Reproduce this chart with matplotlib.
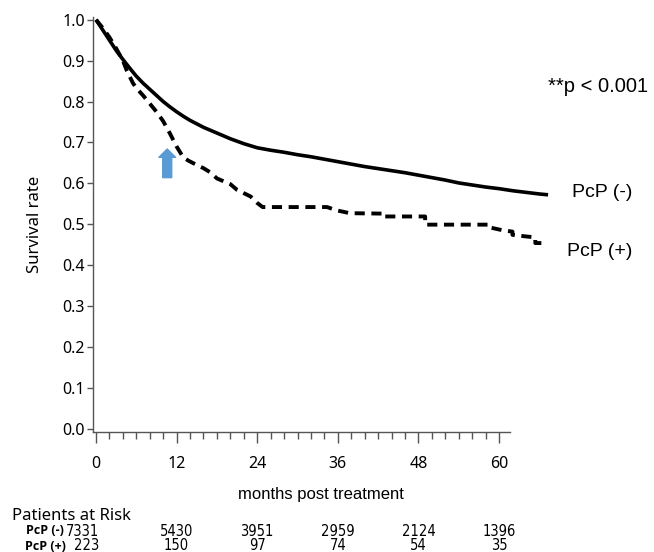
import matplotlib
matplotlib.use("Agg")
import matplotlib.pyplot as plt
import numpy as np
from matplotlib import font_manager

# survival curves (months, survival)
t_neg = [0, 1, 2, 3, 4, 5, 6, 7, 8, 9, 10, 11, 12, 13, 14, 16, 18, 20, 22, 24,
         26, 28, 30, 32, 34, 36, 38, 40, 42, 44, 46, 48, 50, 52, 54, 56, 58,
         60, 62, 64, 66, 67.3]
s_neg = [1.0, 0.975, 0.95, 0.925, 0.903, 0.882, 0.862, 0.845, 0.83, 0.815,
         0.800, 0.787, 0.775, 0.764, 0.754, 0.737, 0.723, 0.709, 0.697, 0.687,
         0.681, 0.676, 0.670, 0.665, 0.659, 0.653, 0.647, 0.641, 0.636, 0.631,
         0.626, 0.620, 0.614, 0.608, 0.601, 0.596, 0.591, 0.587, 0.582, 0.578,
         0.574, 0.572]

# PcP (+): repeated months are the visible drops in the tail
t_pos = [0, 1, 2, 3, 4, 4.6, 5.5, 6, 7, 8, 9, 10, 11, 12, 13, 13.8, 15, 16,
         17, 18, 19, 20, 21, 22, 23, 24, 24.8, 34.4, 35.8, 37.8, 42.7, 42.7,
         49.0, 49.0, 58.4, 58.4, 60.6, 62.0, 62.0, 64.1, 65.4, 65.4, 66.3]
s_pos = [1.0, 0.98, 0.957, 0.93, 0.9, 0.875, 0.845, 0.833, 0.815, 0.795,
         0.775, 0.752, 0.722, 0.69, 0.663, 0.655, 0.645, 0.637, 0.627, 0.612,
         0.605, 0.598, 0.584, 0.576, 0.568, 0.552, 0.542, 0.542, 0.534, 0.527,
         0.526, 0.519, 0.519, 0.499, 0.499, 0.493, 0.485, 0.482, 0.474, 0.47,
         0.468, 0.454, 0.454]

# patients at risk
risk_months = [0, 12, 24, 36, 48, 60]
risk_neg = [7331, 5430, 3951, 2959, 2124, 1396]
risk_pos = [223, 150, 97, 74, 54, 35]

arrow_month = 10.6
arrow_from, arrow_to = 0.614, 0.684

sans = ["Noto Sans", "DejaVu Sans"]
bold_sans = ["Open Sans", "DejaVu Sans"]

# a narrow face for the risk numbers, if one is installed
narrow = None
for f in font_manager.fontManager.ttflist:
    n = f.name.lower() + " " + f.fname.lower()
    if ("narrow" in n or "condensed" in n) and "bold" not in n \
            and "italic" not in n and "oblique" not in n and "mono" not in n \
            and "serif" not in f.name.lower():
        narrow = font_manager.FontProperties(fname=f.fname)
        break
if narrow is None:
    narrow = font_manager.FontProperties(family="DejaVu Sans")

fig = plt.figure(figsize=(6.54, 5.52), dpi=100)
ax = fig.add_axes([0.1422, 0.2174, 0.703, 0.752])

ax.plot(t_neg, s_neg, color="black", lw=2.6, solid_capstyle="butt")
ax.plot(t_pos, s_pos, color="black", lw=2.8, dashes=(2.6, 1.7))

ax.annotate("", xy=(arrow_month, arrow_to), xytext=(arrow_month, arrow_from),
            arrowprops=dict(arrowstyle="simple,head_length=0.6,head_width=1.2,tail_width=0.65",
                            color="#5b9bd5", shrinkA=0, shrinkB=0, mutation_scale=10))

ax.set_xlim(-0.45, 68)
ax.set_ylim(-0.008, 1.007)
ax.spines["top"].set_visible(False)
ax.spines["right"].set_visible(False)
ax.spines["bottom"].set_bounds(-0.45, 61.6)
for sp in ("left", "bottom"):
    ax.spines[sp].set_color("#555555")
    ax.spines[sp].set_linewidth(1.0)

ax.set_yticks(np.arange(0, 1.01, 0.1))
ax.set_yticklabels([f"{v:.1f}" for v in np.arange(0, 1.01, 0.1)],
                   family=sans, fontsize=11.5)
ax.set_xticks(risk_months)
ax.set_xticklabels([str(m) for m in risk_months], family=sans, fontsize=11.5)
ax.set_xticks(np.arange(0, 61, 2), minor=True)
ax.tick_params(axis="y", length=4, width=1, color="#555555", pad=2)
ax.tick_params(axis="x", which="major", length=8, width=1, color="#555555", pad=9)
ax.tick_params(axis="x", which="minor", length=5, width=1, color="#555555")

ax.set_ylabel("Survival rate", family=sans, fontsize=12, labelpad=14)

ax.text(70.8, 0.577, "PcP (-)", family="Liberation Sans", fontsize=14, va="center")
ax.text(70.1, 0.433, "PcP (+)", family="Liberation Sans", fontsize=14, va="center")
fig.text(548 / 654, 1 - 87 / 552, "**p < 0.001", family="Liberation Sans",
         fontsize=14.5, va="center", ha="left")

fig.text(321 / 654, 1 - 495 / 552, "months post treatment",
         family="Liberation Sans", fontsize=12, ha="center", va="center")
fig.text(12 / 654, 1 - 516 / 552, "Patients at Risk", family=sans,
         fontsize=12, ha="left", va="center")

tr = matplotlib.transforms.blended_transform_factory(ax.transData, fig.transFigure)
y1 = 1 - 531 / 552
y2 = 1 - 546 / 552
fig.text(45 / 654, y1, "PcP (-)", family=bold_sans, fontsize=9, weight="bold",
         ha="center", va="center")
fig.text(45 / 654, y2, "PcP (+)", family=bold_sans, fontsize=9, weight="bold",
         ha="center", va="center")
for i, m in enumerate(risk_months):
    x = 0.5 if i == 0 else m
    ha = "right" if i == 0 else "center"
    fig.text(x, y1, str(risk_neg[i]), transform=tr, fontproperties=narrow,
             fontsize=10.5, ha=ha, va="center")
    fig.text(x, y2, str(risk_pos[i]), transform=tr, fontproperties=narrow,
             fontsize=10.5, ha=ha, va="center")

fig.savefig("out.png", dpi=100)
